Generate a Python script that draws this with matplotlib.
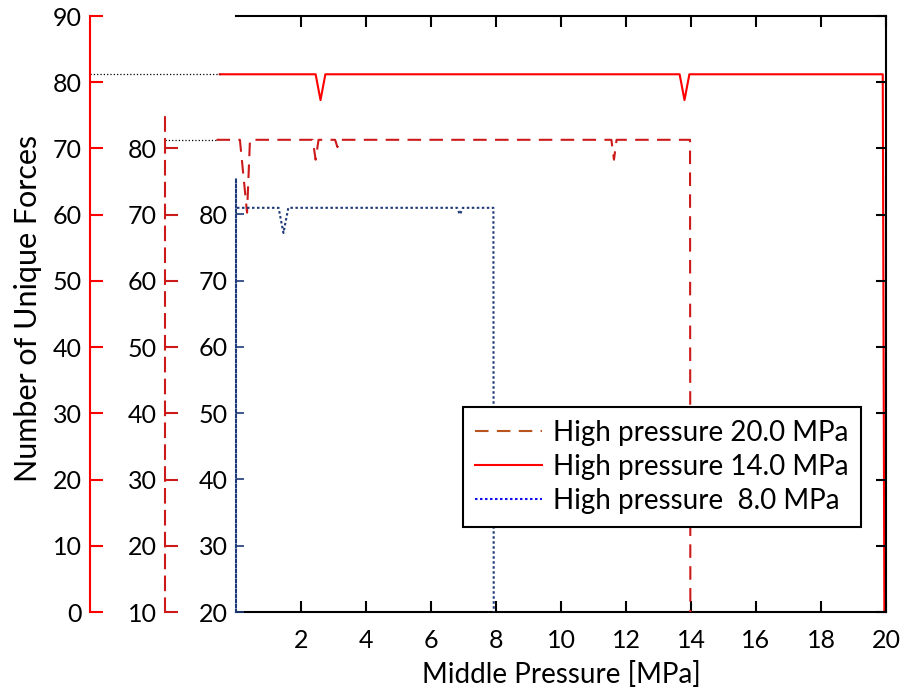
import matplotlib.pyplot as plt
from matplotlib.lines import Line2D

plt.rcParams['font.family'] = ['Lato', 'DejaVu Sans']

# High pressure 14.0 MPa  (solid red, outer axis 0-90)
p14_x = [-0.5, 2.45, 2.6, 2.75, 13.65, 13.8, 13.95, 19.9, 19.95]
p14_y = [81.2, 81.2, 77.3, 81.2, 81.2, 77.3, 81.2, 81.2, 0]

# High pressure 20.0 MPa  (dashed dark red, middle axis 10-80)
p20_x = [-0.6, 0.12, 0.34, 0.43, 2.36, 2.45, 2.54, 3.05, 3.12, 3.2,
         11.55, 11.63, 11.71, 13.97, 13.98]
p20_y = [81.3, 81.3, 70.3, 81.3, 81.3, 78.3, 81.3, 81.3, 80.2, 81.3,
         81.3, 78.3, 81.3, 81.3, 10]

# High pressure 8.0 MPa  (dotted navy, inner axis 20-80)
p8_x = [0.03, 1.31, 1.46, 1.61, 6.8, 6.89, 6.98, 7.92, 7.93]
p8_y = [81.0, 81.0, 77.2, 81.0, 81.0, 80.0, 81.0, 81.0, 20]

x_ticks = list(range(2, 21, 2))
labels = ['High pressure 20.0 MPa', 'High pressure 14.0 MPa', 'High pressure  8.0 MPa']

W, H = 912, 696
fig = plt.figure(figsize=(W / 100, H / 100), dpi=100)


def rect(x0, y0, x1, y1):
    return [x0 / W, 1 - y1 / H, (x1 - x0) / W, (y1 - y0) / H]


FS = 18
dash_red = '#cc1a1a'
navy = '#1f3a78'

# outer frame + solid red axis
ax = fig.add_axes(rect(236, 16, 886, 612))
ax.set_xlim(0, 20)
ax.set_ylim(0, 90)
ax.set_xticks(x_ticks)
ax.set_yticks(range(0, 91, 10))
ax.spines['left'].set_position(('outward', 146 * 0.72))
ax.spines['left'].set_color('red')
ax.spines['left'].set_linewidth(1.5)
for s in ['top', 'right', 'bottom']:
    ax.spines[s].set_linewidth(1.5)
ax.tick_params(axis='y', direction='in', color='red', length=9, width=1.5,
               labelsize=FS, pad=6)
ax.tick_params(axis='x', direction='in', top=True, length=8, width=1.5,
               labelsize=FS, pad=12)
ax.set_xlabel('Middle Pressure [MPa]', fontsize=20, labelpad=7)

# black ticks on the right frame
axr = ax.twinx()
axr.set_ylim(0, 90)
axr.set_yticks(range(0, 91, 10))
axr.tick_params(axis='y', direction='in', length=7, width=1.5, labelright=False)
for s in axr.spines.values():
    s.set_visible(False)

# dashed red axis
axd = fig.add_axes(rect(236, 110, 886, 612), sharex=ax)
axd.set_ylim(10, 85.8)
axd.set_yticks(range(10, 81, 10))
axd.patch.set_visible(False)
axd.xaxis.set_visible(False)
for s in ['top', 'right', 'bottom']:
    axd.spines[s].set_visible(False)
axd.spines['left'].set_position(('outward', 71 * 0.72))
axd.spines['left'].set_color(dash_red)
axd.spines['left'].set_linewidth(1.5)
axd.spines['left'].set_linestyle((0, (6.5, 4)))
axd.tick_params(axis='y', direction='in', color=dash_red, length=9, width=1.5,
                labelsize=FS, pad=6)

# dotted blue axis
axb = fig.add_axes(rect(236, 178, 886, 612), sharex=ax)
axb.set_ylim(20, 85.5)
axb.set_yticks(range(20, 81, 10))
axb.patch.set_visible(False)
axb.xaxis.set_visible(False)
for s in ['top', 'right', 'bottom']:
    axb.spines[s].set_visible(False)
axb.spines['left'].set_color(navy)
axb.spines['left'].set_linewidth(1.5)
axb.spines['left'].set_linestyle((0, (1.2, 1.2)))
axb.tick_params(axis='y', direction='in', color=navy, length=6, width=1.2,
                labelsize=FS, pad=6)

# series
ax.plot(p14_x, p14_y, color='red', lw=1.5, clip_on=False)
axd.plot(p20_x, p20_y, color=dash_red, lw=1.5, ls=(0, (6.5, 4)), clip_on=False)
axb.plot(p8_x, p8_y, color=navy, lw=1.5, ls=(0, (1.2, 1.2)), clip_on=False)

# dotted leaders from the outer axes to the line starts
ax.axhline(p14_y[0], xmin=-146 / 650, xmax=p14_x[0] / 20, color='black',
           ls=':', lw=0.9, clip_on=False)
axd.axhline(p20_y[0], xmin=-71 / 650, xmax=p20_x[0] / 20, color='black',
            ls=':', lw=0.9, clip_on=False)

fig.text(28 / W, 1 - 308 / H, 'Number of Unique Forces', rotation=90,
         ha='center', va='center', fontsize=22)

handles = [Line2D([], [], color='#b9541e', lw=1.5, ls=(0, (6.5, 4))),
           Line2D([], [], color='red', lw=1.5),
           Line2D([], [], color='#1010ee', lw=1.5, ls=(0, (1.2, 1.2)))]
leg = fig.legend(handles, labels, loc='upper left',
                 bbox_to_anchor=(463 / W, 1 - 407 / H), fontsize=20,
                 frameon=True, fancybox=False, framealpha=1, edgecolor='black',
                 handlelength=2.4, borderpad=0.45, labelspacing=0.3,
                 handletextpad=0.4, borderaxespad=0)
leg.get_frame().set_linewidth(1.5)

fig.savefig('out.png', dpi=100)
